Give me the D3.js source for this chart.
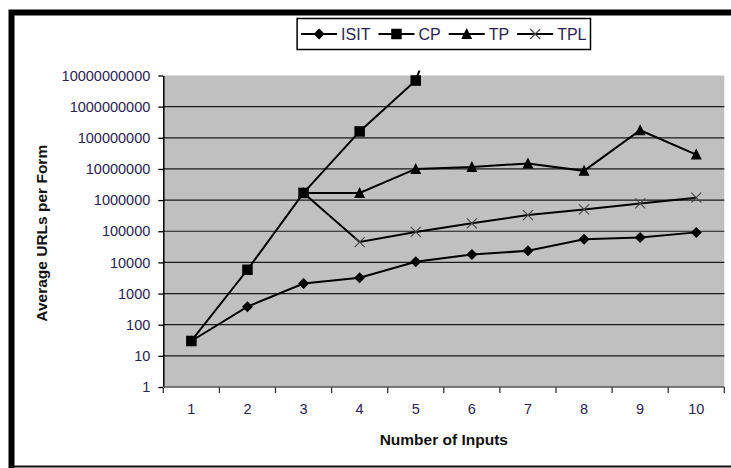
<!DOCTYPE html>
<html>
<head>
<meta charset="utf-8">
<script src="https://cdn.jsdelivr.net/npm/d3@7"></script>
<style>
  html, body { margin: 0; padding: 0; background: #fff; }
  svg { display: block; }
  text { font-family: "Liberation Sans", Arial, sans-serif; }
</style>
</head>
<body>
<svg id="chart" width="731" height="468"></svg>
<script>
// Number of form inputs on the x axis
const categories = [1, 2, 3, 4, 5, 6, 7, 8, 9, 10];

// Average URLs per form for each strategy (null = not measured)
const isit = [30, 380, 2100, 3200, 10500, 18000, 23500, 55000, 63000, 92000];
const cp   = [30, 5800, 1.7e6, 1.6e8, 6.9e9, 5e14, null, null, null, null];
const tp   = [null, null, 1.7e6, 1.7e6, 1.0e7, 1.15e7, 1.5e7, 8.7e6, 1.75e8, 2.9e7];
const tpl  = [null, null, 1.7e6, 45000, 95000, 180000, 330000, 500000, 780000, 1.2e6];

const yTicks = [1, 10, 100, 1000, 1e4, 1e5, 1e6, 1e7, 1e8, 1e9, 1e10];

const seriesList = [
  { name: "ISIT", values: isit, marker: "diamond" },
  { name: "CP",   values: cp,   marker: "square" },
  { name: "TP",   values: tp,   marker: "triangle" },
  { name: "TPL",  values: tpl,  marker: "cross" }
];
// markers are stacked so the squares end up on top
const markerOrder = ["ISIT", "TPL", "TP", "CP"];

const svg = d3.select("#chart");
const plot = { left: 163.3, right: 724.3, top: 75.5, bottom: 387 };
const labelColor = "#2a2352";

// outer frame
svg.append("path")
  .attr("d", "M11.5,468 L11.5,12.5 L731,12.5")
  .attr("fill", "none").attr("stroke", "#000").attr("stroke-width", 6);
svg.append("line")
  .attr("x1", 11).attr("x2", 731).attr("y1", 466.5).attr("y2", 466.5)
  .attr("stroke", "#111").attr("stroke-width", 2);

const x = d3.scaleBand().domain(categories).range([plot.left, plot.right]).padding(0);
const y = d3.scaleLog().domain([1, 1e10]).range([plot.bottom, plot.top]);
const cx = c => x(c) + x.bandwidth() / 2;

// plot background
svg.append("rect")
  .attr("x", plot.left).attr("y", plot.top)
  .attr("width", plot.right - plot.left).attr("height", plot.bottom - plot.top)
  .attr("fill", "#c0c0c0");

// horizontal gridlines at each decade
svg.append("g").selectAll("line")
  .data(yTicks.filter(v => v > 1 && v < 1e10))
  .join("line")
  .attr("x1", plot.left).attr("x2", plot.right)
  .attr("y1", d => y(d)).attr("y2", d => y(d))
  .attr("stroke", "#1a1a1a").attr("stroke-width", 1.2);

// y axis
const yAxis = d3.axisLeft(y).tickValues(yTicks).tickFormat(d3.format("d"))
  .tickSizeInner(5).tickSizeOuter(0).tickPadding(8);
const gy = svg.append("g").attr("transform", `translate(${plot.left},0)`).call(yAxis);
gy.select(".domain").attr("stroke", "#000").attr("stroke-width", 1.5);
gy.selectAll(".tick line").attr("stroke", "#000").attr("stroke-width", 1.3);
gy.selectAll(".tick text").attr("fill", labelColor)
  .style("font-size", "14.5px").style("font-family", "'Liberation Sans', Arial, sans-serif");

// x axis: labels centred in each band, ticks on band boundaries
const xAxis = d3.axisBottom(x).tickSize(0).tickPadding(17);
const gx = svg.append("g").attr("transform", `translate(0,${plot.bottom})`).call(xAxis);
gx.select(".domain").remove();
gx.selectAll(".tick text").attr("fill", labelColor)
  .style("font-size", "14.5px").style("font-family", "'Liberation Sans', Arial, sans-serif");
const bounds = categories.map(c => x(c)).concat([plot.right]);
svg.append("g").selectAll("line").data(bounds).join("line")
  .attr("x1", d => d).attr("x2", d => d)
  .attr("y1", plot.bottom).attr("y2", plot.bottom + 6)
  .attr("stroke", "#333").attr("stroke-width", 1.3);
svg.append("line")
  .attr("x1", plot.left).attr("x2", plot.right)
  .attr("y1", plot.bottom).attr("y2", plot.bottom)
  .attr("stroke", "#555").attr("stroke-width", 1.3);

// axis titles
svg.append("text")
  .attr("x", (plot.left + plot.right) / 2).attr("y", 445)
  .attr("text-anchor", "middle").attr("font-weight", "bold")
  .attr("font-size", 15.5).attr("fill", "#111")
  .text("Number of Inputs");
svg.append("text")
  .attr("transform", `translate(47,${(plot.top + plot.bottom) / 2 + 2}) rotate(-90)`)
  .attr("text-anchor", "middle").attr("font-weight", "bold")
  .attr("font-size", 15.5).attr("fill", "#111")
  .text("Average URLs per Form");

// marker drawing
function drawMarker(g, type, px, py) {
  if (type === "diamond") {
    const r = 5.5;
    g.append("path").attr("d", `M${px},${py - r}L${px + r},${py}L${px},${py + r}L${px - r},${py}Z`)
      .attr("fill", "#000");
  } else if (type === "square") {
    const s = 10.5;
    g.append("rect").attr("x", px - s / 2).attr("y", py - s / 2)
      .attr("width", s).attr("height", s).attr("fill", "#000");
  } else if (type === "triangle") {
    const w = 11, h = 10;
    g.append("path").attr("d", `M${px},${py - h / 2 - 1}L${px + w / 2},${py + h / 2}L${px - w / 2},${py + h / 2}Z`)
      .attr("fill", "#000");
  } else {
    const r = 5;
    g.append("path").attr("d", `M${px - r},${py - r}L${px + r},${py + r}M${px - r},${py + r}L${px + r},${py - r}`)
      .attr("stroke", "#444").attr("stroke-width", 1.1).attr("fill", "none");
  }
}

// series lines, clipped just above the plot area
svg.append("clipPath").attr("id", "plotClip")
  .append("rect").attr("x", plot.left).attr("y", plot.top - 5)
  .attr("width", plot.right - plot.left).attr("height", plot.bottom - plot.top + 10);

const line = d3.line()
  .defined(d => d.v != null)
  .x(d => cx(d.c))
  .y(d => y(d.v));

const seriesG = svg.append("g").attr("clip-path", "url(#plotClip)");
seriesList.forEach(s => {
  const pts = categories.map((c, i) => ({ c, v: s.values[i] }));
  seriesG.append("path").datum(pts)
    .attr("d", line).attr("fill", "none")
    .attr("stroke", "#000").attr("stroke-width", 2);
});
markerOrder.forEach(name => {
  const s = seriesList.find(d => d.name === name);
  const g = seriesG.append("g");
  categories.forEach((c, i) => {
    const v = s.values[i];
    if (v == null || v > 1e10) return;
    drawMarker(g, s.marker, cx(c), y(v));
  });
});

// legend
const legend = svg.append("g");
const legendBox = legend.append("rect").attr("fill", "#fff")
  .attr("stroke", "#000").attr("stroke-width", 1.5);
const items = legend.append("g");
let cursor = 0;
const lineLen = 36, textGap = 4, itemGap = 8, legendY = 34;
seriesList.forEach(s => {
  const it = items.append("g").attr("transform", `translate(${cursor},0)`);
  it.append("line").attr("x1", 0).attr("x2", lineLen)
    .attr("y1", legendY).attr("y2", legendY)
    .attr("stroke", "#000").attr("stroke-width", 2);
  drawMarker(it, s.marker, lineLen / 2, legendY);
  const t = it.append("text").attr("x", lineLen + textGap).attr("y", legendY + 5.5)
    .attr("font-size", 16).attr("fill", labelColor).text(s.name);
  cursor += lineLen + textGap + t.node().getComputedTextLength() + itemGap;
});
const totalW = cursor - itemGap;
const legendX = (plot.left + plot.right) / 2 - totalW / 2;
items.attr("transform", `translate(${legendX},0)`);
legendBox.attr("x", legendX - 4).attr("y", 18.5)
  .attr("width", totalW + 8).attr("height", 31);
</script>
</body>
</html>
